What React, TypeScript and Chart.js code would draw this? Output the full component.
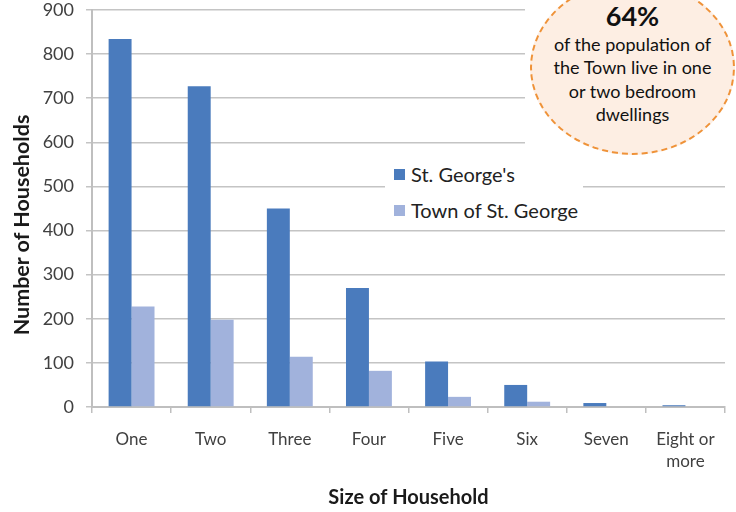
import React, { useEffect, useRef } from "react";
import { Chart, registerables } from "chart.js";

Chart.register(...registerables);

const categories: (string | string[])[] = ["One", "Two", "Three", "Four", "Five", "Six", "Seven", ["Eight or", "more"]];
const stGeorges = [834, 727, 450, 270, 103, 50, 9, 4];
const townOfStGeorge = [228, 198, 114, 82, 23, 12, 0, 0];
const seriesNames = ["St. George's", "Town of St. George"];
const seriesColors = ["#4a7bbd", "#a1b2dc"];
const yTicks = [0, 100, 200, 300, 400, 500, 600, 700, 800, 900];
const xTitle = "Size of Household";
const yTitle = "Number of Households";
const calloutHead = "64%";
const calloutLines = ["of the population of", "the Town live in one", "or two bedroom", "dwellings"];

const FONT = "Lato, 'Open Sans', sans-serif";

export default function App() {
  const canvasRef = useRef<HTMLCanvasElement | null>(null);

  useEffect(() => {
    const canvas = canvasRef.current;
    if (!canvas) return;
    const chart = new Chart(canvas, {
      type: "bar",
      data: {
        labels: categories,
        datasets: [
          {
            label: seriesNames[0],
            data: stGeorges,
            backgroundColor: seriesColors[0],
            categoryPercentage: 0.58,
            barPercentage: 1,
          },
          {
            label: seriesNames[1],
            data: townOfStGeorge,
            backgroundColor: seriesColors[1],
            categoryPercentage: 0.58,
            barPercentage: 1,
          },
        ],
      },
      options: {
        animation: false,
        responsive: false,
        maintainAspectRatio: false,
        layout: { padding: { top: 10, right: 11, left: 0, bottom: 0 } },
        plugins: {
          legend: { display: false },
          tooltip: { enabled: false },
        },
        scales: {
          x: {
            grid: {
              drawOnChartArea: false,
              drawTicks: true,
              tickLength: 6,
              color: "#bfbfbf",
              lineWidth: 1.5,
            },
            border: { color: "#bfbfbf", width: 2 },
            ticks: {
              color: "#404040",
              font: { family: FONT, size: 17, lineHeight: 1.3 },
              padding: 15,
              maxRotation: 0,
              autoSkip: false,
            },
            title: {
              display: true,
              text: xTitle,
              color: "#1a1a1a",
              font: { family: FONT, size: 20, weight: "bold", lineHeight: 1.2 },
              padding: { top: 0, bottom: 2 },
            },
            afterFit: (scale: any) => {
              scale.height = 105;
              scale.paddingLeft = 0;
              scale.paddingRight = 0;
            },
          },
          y: {
            min: 0,
            max: 900,
            afterBuildTicks: (scale: any) => {
              scale.ticks = yTicks.map((v) => ({ value: v }));
            },
            grid: {
              color: "#c4c4c4",
              lineWidth: 1.5,
              tickLength: 6,
            },
            border: { color: "#bfbfbf", width: 2 },
            ticks: {
              color: "#404040",
              font: { family: FONT, size: 18 },
              padding: 12,
            },
            title: { display: false },
            afterFit: (scale: any) => {
              scale.width = 92;
              scale.paddingTop = 0;
              scale.paddingBottom = 0;
            },
          },
        },
      },
    });
    return () => chart.destroy();
  }, []);

  return (
    <div
      style={{
        position: "fixed",
        left: 0,
        top: 0,
        width: 736,
        height: 512,
        background: "#ffffff",
        overflow: "hidden",
        fontFamily: FONT,
      }}
    >
      <canvas ref={canvasRef} width={736} height={512} style={{ position: "absolute", left: 0, top: 0 }} />
      {/* Y axis title */}
      <div
        style={{
          position: "absolute",
          left: 21 - 150,
          top: 225 - 13,
          width: 300,
          height: 26,
          lineHeight: "26px",
          textAlign: "center",
          transform: "rotate(-90deg)",
          fontSize: 21.5,
          fontWeight: "bold",
          color: "#1a1a1a",
          whiteSpace: "nowrap",
        }}
      >
        {yTitle}
      </div>
      {/* Legend */}
      <div
        style={{
          position: "absolute",
          left: 385,
          top: 150,
          width: 198,
          height: 75,
          background: "#ffffff",
        }}
      >
        {seriesNames.map((name, i) => (
          <div
            key={name}
            style={{
              position: "absolute",
              left: 9,
              top: 12 + i * 36,
              height: 24,
              display: "flex",
              alignItems: "center",
              whiteSpace: "nowrap",
            }}
          >
            <span
              style={{
                display: "inline-block",
                width: 11,
                height: 11,
                background: seriesColors[i],
                marginRight: 6,
              }}
            />
            <span style={{ fontSize: 20, color: "#222222" }}>{name}</span>
          </div>
        ))}
      </div>
      {/* Callout */}
      <div
        style={{
          position: "absolute",
          left: 525,
          top: 0,
          width: 211,
          height: 160,
          background: "#ffffff",
        }}
      />
      <div
        style={{
          position: "absolute",
          left: 530,
          top: -20,
          width: 201,
          height: 171,
          borderRadius: "50%",
          border: "2px dashed #ef9238",
          background: "#fdeee3",
        }}
      />
      <div
        style={{
          position: "absolute",
          left: 530,
          top: 0,
          width: 205,
          textAlign: "center",
          color: "#111111",
        }}
      >
        <div style={{ fontSize: 27, fontWeight: "bold", lineHeight: "34px", marginTop: -1 }}>{calloutHead}</div>
        {calloutLines.map((t) => (
          <div key={t} style={{ fontSize: 18, lineHeight: "23.3px" }}>
            {t}
          </div>
        ))}
      </div>
    </div>
  );
}
